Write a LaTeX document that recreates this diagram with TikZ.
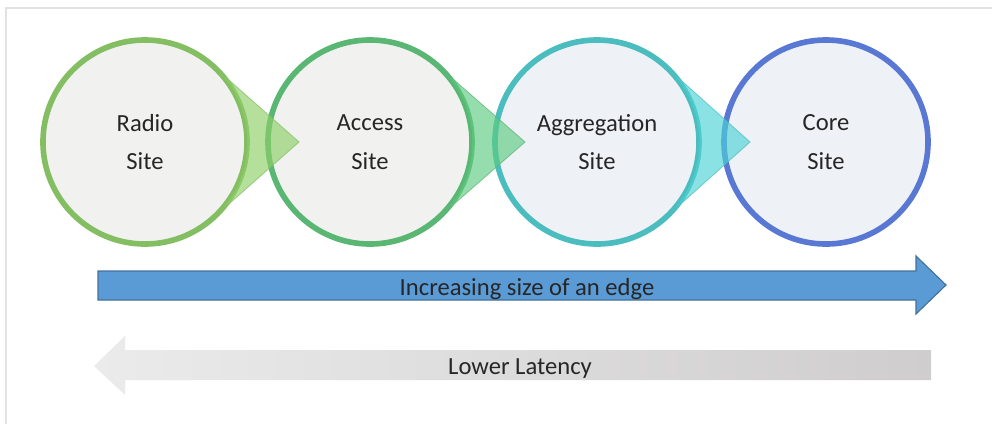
\documentclass[tikz,border=0pt]{standalone}
\usepackage{fontspec}
\setmainfont{Carlito}
\usetikzlibrary{calc}

\definecolor{textgray}{HTML}{262626}
\definecolor{framegray}{HTML}{E2E2E2}
\definecolor{radioring}{HTML}{84BE62}
\definecolor{radiotip}{HTML}{8ECF67}
\definecolor{accessring}{HTML}{5AB673}
\definecolor{accesstip}{HTML}{5CCB80}
\definecolor{aggrring}{HTML}{4BBDBF}
\definecolor{aggrtip}{HTML}{4DD3D6}
\definecolor{corering}{HTML}{5878D4}
\definecolor{greenin}{HTML}{F1F2F0}
\definecolor{bluein}{HTML}{EEF1F6}
\definecolor{edgeblue}{HTML}{5B9BD5}
\definecolor{edgeline}{HTML}{41719C}
\definecolor{latlight}{HTML}{EBEBEB}
\definecolor{latmid}{HTML}{E3E3E3}
\definecolor{latdark}{HTML}{CFCDCD}

\begin{document}
\begin{tikzpicture}[
		% jedna jedinica = jedan piksel
		x=0.025cm, y=0.025cm,
		site/.style={circle, draw, line width=4pt, minimum size=5.1cm,
			inner sep=0pt, outer sep=0pt, align=center, text=textgray,
			font=\fontsize{17.5}{27.5}\selectfont},
		pointer/.style={fill opacity=0.65, draw opacity=0.7, line width=0.6pt},
		label/.style={text=textgray, font=\fontsize{17.5}{20}\selectfont},
		]
		\useasboundingbox (0,0) rectangle (992,424);
		\draw[framegray, line width=2pt] (6,0) -- (6,416) -- (992,416);

		\node[site, draw=radioring, fill=greenin] (radio) at (145,282) {Radio\\Site};
		\node[site, draw=accessring, fill=greenin] (access) at (370,282) {Access\\Site};
		\node[site, draw=aggrring, fill=bluein] (aggr) at (597,282) {Aggregation\\Site};
		\node[site, draw=corering, fill=bluein] (core) at (826,282) {Core\\Site};

		\coordinate (radiopt) at (299,282);
		\coordinate (accesspt) at (525,282);
		\coordinate (aggrpt) at (750,282);

		\filldraw[pointer, fill=radiotip, draw=radioring] (radio.48) -- (radiopt) -- (radio.-48)
			arc[start angle=-48, end angle=48, radius=102] -- cycle;
		\filldraw[pointer, fill=accesstip, draw=accessring] (access.48) -- (accesspt) -- (access.-48)
			arc[start angle=-48, end angle=48, radius=102] -- cycle;
		\filldraw[pointer, fill=aggrtip, draw=aggrring] (aggr.48) -- (aggrpt) -- (aggr.-48)
			arc[start angle=-48, end angle=48, radius=102] -- cycle;

		\filldraw[fill=edgeblue, draw=edgeline, line width=0.8pt]
			(98,153) -- (916,153) -- (916,168) -- (946,139) -- (916,110) -- (916,124) -- (98,124) -- cycle;
		\node[label] (edgetext) at (527,135) {Increasing size of an edge};

		\shade[left color=latlight, middle color=latmid, right color=latdark]
			(931,74) -- (125,74) -- (125,88) -- (94,58) -- (125,29) -- (125,44) -- (931,44) -- cycle;
		\node[label] (lattext) at (520,55) {Lower Latency};
	\end{tikzpicture}
\end{document}
